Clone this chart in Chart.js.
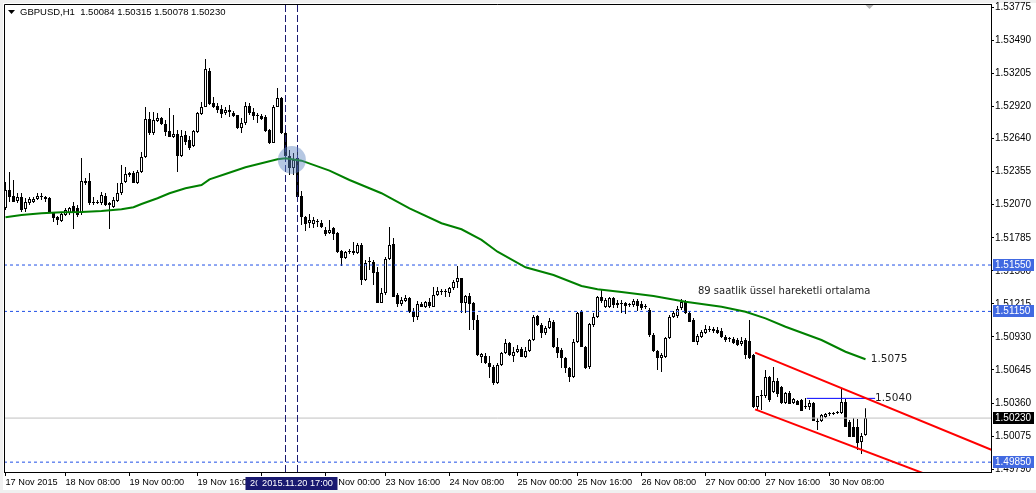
<!DOCTYPE html>
<html>
<head>
<meta charset="utf-8">
<script src="https://cdn.jsdelivr.net/npm/chart.js@4.4.1/dist/chart.umd.min.js"></script>
<style>
  body { margin: 0; background: #fff; }
  #wrap { width: 1036px; height: 493px; }
</style>
</head>
<body>
<div id="wrap"><canvas id="chart" width="1036" height="493"></canvas></div>
<script>
// GBPUSD H1, one value per hourly bar
const opens = [
  1.52042,1.52197,1.52145,1.52102,1.52137,1.52033,1.52085,1.52094,1.52119,1.52145,
  1.52137,1.52128,1.51999,1.51964,1.51930,1.51982,1.51999,1.52059,1.52042,1.51999,
  1.52275,1.52275,1.52085,1.52094,1.52085,1.52145,1.52085,1.52051,1.52102,1.52171,
  1.52266,1.52327,1.52344,1.52257,1.52353,1.52482,1.52809,1.52689,1.52792,1.52818,
  1.52766,1.52706,1.52654,1.52680,1.52490,1.52671,1.52628,1.52576,1.52697,1.52852,
  1.52913,1.53224,1.52947,1.52921,1.52895,1.52861,1.52887,1.52861,1.52844,1.52732,
  1.52775,1.52921,1.52870,1.52844,1.52835,1.52827,1.52715,1.52602,1.52913,1.52990,
  1.52689,1.52490,1.52387,1.52473,1.52145,1.51964,1.51912,1.51904,1.51930,1.51912,
  1.51852,1.51826,1.51869,1.51826,1.51671,1.51611,1.51671,1.51671,1.51654,1.51723,
  1.51421,1.51576,1.51576,1.51490,1.51222,1.51309,1.51602,1.51731,1.51291,1.51214,
  1.51239,1.51265,1.51145,1.51102,1.51214,1.51188,1.51231,1.51188,1.51291,1.51317,
  1.51317,1.51309,1.51352,1.51403,1.51438,1.51222,1.51283,1.51222,1.51076,1.50757,
  1.50766,1.50705,1.50670,1.50532,1.50687,1.50791,1.50877,1.50766,1.50800,1.50826,
  1.50757,1.50809,1.50903,1.51110,1.51033,1.50964,1.51007,1.51059,1.50843,1.50817,
  1.50748,1.50662,1.50584,1.50886,1.51145,1.50843,1.50670,1.51033,1.51102,1.51274,
  1.51188,1.51188,1.51265,1.51222,1.51222,1.51222,1.51214,1.51205,1.51239,1.51214,
  1.51188,1.51162,1.50947,1.50809,1.50748,1.50757,1.50921,1.51102,1.51110,1.51179,
  1.51231,1.51136,1.51076,1.50886,1.50929,1.50964,1.50990,1.50981,1.50990,1.50981,
  1.50929,1.50912,1.50912,1.50903,1.50869,1.50903,1.50895,1.50774,1.50325,1.50420,
  1.50420,1.50584,1.50455,1.50550,1.50498,1.50360,1.50446,1.50360,1.50377,1.50386,
  1.50325,1.50325,1.50360,1.50204,1.50204,1.50239,1.50265,1.50265,1.50273,1.50273,
  1.50369,1.50196,1.50153,1.50153,1.50024,1.50084
];
const highs = [
  1.52266,1.52353,1.52283,1.52171,1.52171,1.52128,1.52137,1.52137,1.52171,1.52171,
  1.52145,1.52137,1.52008,1.51973,1.52008,1.52042,1.52051,1.52094,1.52068,1.52473,
  1.52301,1.52344,1.52137,1.52111,1.52180,1.52171,1.52094,1.52137,1.52257,1.52413,
  1.52396,1.52353,1.52361,1.52370,1.52525,1.52913,1.52870,1.52870,1.52861,1.52827,
  1.52801,1.52904,1.52844,1.52715,1.52715,1.52706,1.52663,1.52715,1.52870,1.52956,
  1.53327,1.53250,1.52999,1.52947,1.52930,1.52913,1.52930,1.52878,1.52844,1.52818,
  1.52956,1.52947,1.52904,1.52861,1.52852,1.52844,1.52723,1.52930,1.53077,1.52999,
  1.52697,1.52542,1.52516,1.52551,1.52188,1.51973,1.51990,1.51964,1.51947,1.51938,
  1.51878,1.51938,1.51878,1.51835,1.51680,1.51671,1.51689,1.51749,1.51740,1.51740,
  1.51593,1.51619,1.51593,1.51533,1.51352,1.51619,1.51878,1.51783,1.51309,1.51274,
  1.51291,1.51274,1.51179,1.51239,1.51231,1.51239,1.51265,1.51360,1.51360,1.51343,
  1.51343,1.51360,1.51421,1.51541,1.51438,1.51291,1.51309,1.51231,1.51119,1.50791,
  1.50791,1.50766,1.50687,1.50705,1.50800,1.50912,1.50886,1.50843,1.50860,1.50843,
  1.50843,1.50912,1.51119,1.51119,1.51050,1.51024,1.51093,1.51076,1.50921,1.50835,
  1.50757,1.50670,1.50912,1.51145,1.51162,1.50852,1.51050,1.51136,1.51283,1.51335,
  1.51265,1.51274,1.51274,1.51248,1.51248,1.51231,1.51222,1.51257,1.51257,1.51239,
  1.51214,1.51179,1.50964,1.50817,1.50791,1.50929,1.51119,1.51153,1.51196,1.51257,
  1.51248,1.51153,1.51093,1.50955,1.50990,1.51033,1.51024,1.51016,1.51016,1.51007,
  1.50947,1.50929,1.50929,1.50921,1.50929,1.50921,1.51076,1.50783,1.50420,1.50472,
  1.50644,1.50593,1.50670,1.50575,1.50506,1.50455,1.50463,1.50403,1.50386,1.50394,
  1.50403,1.50386,1.50369,1.50230,1.50265,1.50273,1.50282,1.50282,1.50291,1.50481,
  1.50394,1.50213,1.50230,1.50221,1.50101,1.50315
];
const lows = [
  1.52025,1.52094,1.52094,1.52085,1.52008,1.52008,1.52068,1.52085,1.52111,1.52111,
  1.52094,1.51999,1.51921,1.51895,1.51921,1.51973,1.51982,1.51861,1.51964,1.51982,
  1.52240,1.52068,1.52068,1.52076,1.52068,1.52059,1.51861,1.52042,1.52094,1.52154,
  1.52257,1.52309,1.52257,1.52248,1.52344,1.52473,1.52671,1.52671,1.52784,1.52758,
  1.52663,1.52654,1.52645,1.52353,1.52482,1.52585,1.52542,1.52568,1.52689,1.52844,
  1.52913,1.52930,1.52904,1.52861,1.52818,1.52844,1.52827,1.52827,1.52723,1.52689,
  1.52758,1.52844,1.52801,1.52775,1.52801,1.52697,1.52594,1.52602,1.52913,1.52680,
  1.52439,1.52327,1.52327,1.52128,1.51895,1.51843,1.51869,1.51869,1.51878,1.51869,
  1.51800,1.51817,1.51766,1.51654,1.51541,1.51602,1.51645,1.51637,1.51645,1.51378,
  1.51412,1.51507,1.51378,1.51222,1.51222,1.51291,1.51593,1.51274,1.51188,1.51196,
  1.51231,1.51136,1.51059,1.51076,1.51188,1.51179,1.51179,1.51188,1.51283,1.51291,
  1.51274,1.51274,1.51335,1.51352,1.51136,1.51136,1.50990,1.50990,1.50766,1.50705,
  1.50696,1.50575,1.50515,1.50524,1.50679,1.50783,1.50766,1.50714,1.50791,1.50757,
  1.50748,1.50800,1.50895,1.51024,1.50921,1.50947,1.50999,1.50835,1.50748,1.50662,
  1.50618,1.50541,1.50575,1.50878,1.50843,1.50653,1.50653,1.51016,1.51093,1.51222,
  1.51179,1.51179,1.51179,1.51179,1.51136,1.51127,1.51188,1.51188,1.51153,1.51162,
  1.51171,1.50929,1.50800,1.50644,1.50627,1.50748,1.50912,1.51093,1.51093,1.51162,
  1.51127,1.51059,1.50886,1.50860,1.50921,1.50955,1.50973,1.50964,1.50955,1.50921,
  1.50886,1.50886,1.50869,1.50852,1.50852,1.50740,1.50740,1.50317,1.50299,1.50299,
  1.50403,1.50369,1.50446,1.50412,1.50351,1.50351,1.50351,1.50351,1.50343,1.50291,
  1.50308,1.50299,1.50204,1.50127,1.50196,1.50230,1.50248,1.50256,1.50265,1.50265,
  1.50153,1.50067,1.50067,1.49954,1.49920,1.50078
];
const closes = [
  1.52197,1.52137,1.52094,1.52137,1.52025,1.52094,1.52119,1.52119,1.52145,1.52137,
  1.52119,1.51999,1.51956,1.51938,1.51990,1.52025,1.52042,1.51999,1.51982,1.52275,
  1.52257,1.52085,1.52094,1.52085,1.52154,1.52068,1.52068,1.52111,1.52171,1.52257,
  1.52335,1.52344,1.52257,1.52353,1.52482,1.52809,1.52689,1.52801,1.52818,1.52766,
  1.52697,1.52654,1.52680,1.52490,1.52663,1.52611,1.52559,1.52706,1.52861,1.52913,
  1.53241,1.52939,1.52913,1.52887,1.52852,1.52887,1.52870,1.52835,1.52732,1.52775,
  1.52921,1.52861,1.52835,1.52835,1.52809,1.52706,1.52602,1.52913,1.52990,1.52689,
  1.52490,1.52387,1.52456,1.52137,1.51964,1.51904,1.51938,1.51938,1.51921,1.51878,
  1.51817,1.51852,1.51817,1.51663,1.51611,1.51663,1.51663,1.51654,1.51723,1.51421,
  1.51567,1.51576,1.51481,1.51222,1.51309,1.51602,1.51723,1.51274,1.51214,1.51248,
  1.51265,1.51145,1.51102,1.51214,1.51188,1.51231,1.51196,1.51291,1.51326,1.51317,
  1.51317,1.51352,1.51403,1.51438,1.51222,1.51283,1.51214,1.51076,1.50774,1.50783,
  1.50705,1.50670,1.50532,1.50687,1.50791,1.50877,1.50774,1.50800,1.50826,1.50757,
  1.50809,1.50903,1.51102,1.51033,1.50964,1.51007,1.51067,1.50843,1.50791,1.50748,
  1.50662,1.50584,1.50886,1.51136,1.50843,1.50662,1.51042,1.51102,1.51274,1.51239,
  1.51248,1.51265,1.51205,1.51205,1.51214,1.51196,1.51205,1.51239,1.51196,1.51179,
  1.51196,1.50947,1.50809,1.50748,1.50774,1.50921,1.51102,1.51136,1.51171,1.51231,
  1.51136,1.51059,1.50886,1.50938,1.50973,1.50999,1.50990,1.50999,1.50964,1.50929,
  1.50903,1.50912,1.50878,1.50860,1.50895,1.50774,1.50748,1.50325,1.50420,1.50429,
  1.50584,1.50386,1.50550,1.50437,1.50360,1.50446,1.50351,1.50394,1.50343,1.50291,
  1.50325,1.50360,1.50204,1.50196,1.50256,1.50265,1.50265,1.50273,1.50273,1.50369,
  1.50153,1.50067,1.50067,1.50015,1.50076,1.50230
];

// 89 period EMA
const emaBars = [0, 4, 9, 14, 19, 24, 29, 32, 34, 38, 41, 45, 49, 51, 55, 60, 64, 68, 70, 74,
  81, 86, 94, 101, 109, 114, 119, 123, 130, 137, 144, 148, 154, 162, 170, 179, 185, 190, 195, 204, 210, 215];
const emaValues = [1.51962, 1.51981, 1.51996, 1.52005, 1.52007, 1.52016, 1.52031, 1.52048, 1.52076, 1.52126,
  1.52169, 1.52212, 1.52240, 1.52289, 1.52335, 1.52393, 1.52427, 1.52462, 1.52471, 1.52450,
  1.52364, 1.52283, 1.52169, 1.52039, 1.51910, 1.51858, 1.51766, 1.51665, 1.51530, 1.51464,
  1.51369, 1.51341, 1.51317, 1.51283, 1.51234, 1.51190, 1.51147, 1.51090, 1.51018, 1.50903, 1.50802, 1.50737];

const priceTicks = [1.53775, 1.53490, 1.53205, 1.52920, 1.52640, 1.52355, 1.52070, 1.51785,
  1.51500, 1.51215, 1.50930, 1.50645, 1.50360, 1.50075, 1.49790];
const timeTickBars = [0, 15, 31, 48, 64, 80, 95, 111, 128, 143, 159, 175, 190, 206];
const timeTickLabels = ['17 Nov 2015', '18 Nov 08:00', '19 Nov 00:00', '19 Nov 16:00', '20 Nov 08:00',
  '23 Nov 00:00', '23 Nov 16:00', '24 Nov 08:00', '25 Nov 00:00', '25 Nov 16:00', '26 Nov 08:00',
  '27 Nov 00:00', '27 Nov 16:00', '30 Nov 08:00'];

const levelPrices = [1.51550, 1.51150, 1.49850];
const bidPrice = 1.50230;
const crossBars = [70, 73];
const crossLabels = ['2015.11.20 14:00', '2015.11.20 17:00'];
const channelBars = [187.4, 246.9];
const channelTop = [1.50794, 1.49950];
const channelBottom = [1.50305, 1.49526];
const resistBars = [200.3, 217.4];
const resistPrice = 1.50400;

const X_MIN = -0.375, X_MAX = 246.375;
const Y_MIN = 1.49765, Y_MAX = 1.53801;
const FONT = 'Liberation Sans';

function hLine(price) {
  return [{x: X_MIN, y: price}, {x: X_MAX, y: price}];
}
function vLine(bar) {
  return [{x: bar, y: Y_MIN}, {x: bar, y: Y_MAX}];
}

const datasets = [];
datasets.push({
  type: 'bar', order: 10, grouped: false, barThickness: 1, inflateAmount: 0,
  backgroundColor: '#000',
  data: highs.map((h, i) => ({x: i, y: [lows[i], h]}))
});
datasets.push({
  type: 'bar', order: 9, grouped: false, barThickness: 3, inflateAmount: 0, minBarLength: 1,
  borderWidth: 1, borderSkipped: false, borderColor: '#000',
  backgroundColor: closes.map((c, i) => c >= opens[i] ? '#fff' : '#000'),
  data: opens.map((o, i) => ({x: i, y: [o, closes[i]]}))
});
levelPrices.forEach(p => datasets.push({
  type: 'line', order: 8, data: hLine(p), borderColor: '#1f4fe6', borderWidth: 1,
  borderDash: [3, 3], pointRadius: 0
}));
datasets.push({
  type: 'line', order: 8, data: hLine(bidPrice), borderColor: '#c0c0c0', borderWidth: 1, pointRadius: 0
});
crossBars.forEach(b => datasets.push({
  type: 'line', order: 7, data: vLine(b), borderColor: '#1a1a72', borderWidth: 1,
  borderDash: [7, 3], pointRadius: 0
}));
datasets.push({
  type: 'line', order: 6, borderColor: '#008000', borderWidth: 2, pointRadius: 0, tension: 0,
  data: emaBars.map((b, i) => ({x: b, y: emaValues[i]}))
});
datasets.push({
  type: 'line', order: 5, borderColor: '#ff0000', borderWidth: 2, pointRadius: 0,
  data: channelBars.map((b, i) => ({x: b, y: channelTop[i]}))
});
datasets.push({
  type: 'line', order: 5, borderColor: '#ff0000', borderWidth: 2, pointRadius: 0,
  data: channelBars.map((b, i) => ({x: b, y: channelBottom[i]}))
});
datasets.push({
  type: 'line', order: 5, borderColor: '#0000ff', borderWidth: 1, pointRadius: 0,
  data: resistBars.map(b => ({x: b, y: resistPrice}))
});
datasets.push({
  type: 'line', order: 4, showLine: false, pointRadius: 14, pointBorderWidth: 0,
  pointBackgroundColor: 'rgba(90,130,190,0.45)', pointBorderColor: 'rgba(0,0,0,0)',
  data: [{x: 71.6, y: 1.52456}]
});

const extras = {
  id: 'extras',
  beforeDraw(chart) {
    const {ctx, width, height} = chart;
    ctx.save();
    ctx.fillStyle = '#f0f0f0';
    ctx.fillRect(0, 0, width, 3);
    ctx.fillRect(0, 0, 3, height);
    ctx.fillRect(0, height - 3, width, 3);
    ctx.restore();
  },
  afterDraw(chart) {
    const {ctx, chartArea: a, scales: {x, y}} = chart;
    ctx.save();
    // frame
    ctx.strokeStyle = '#000';
    ctx.lineWidth = 1;
    ctx.beginPath();
    ctx.moveTo(a.left + 0.5, a.bottom);
    ctx.lineTo(a.left + 0.5, a.top + 0.5);
    ctx.lineTo(a.right, a.top + 0.5);
    ctx.stroke();

    // text objects on the chart
    ctx.fillStyle = '#1e1e1e';
    ctx.textBaseline = 'middle';
    ctx.textAlign = 'left';
    ctx.font = '10px "DejaVu Sans"';
    ctx.fillText('89 saatlik üssel hareketli ortalama', x.getPixelForValue(173.1), y.getPixelForValue(1.51320));
    ctx.font = '10.5px "DejaVu Sans"';
    ctx.fillText('1.5075', x.getPixelForValue(216.3), y.getPixelForValue(1.50737));
    ctx.fillText('1.5040', x.getPixelForValue(217.4), y.getPixelForValue(resistPrice));

    // shift marker
    const sx = x.getPixelForValue(216);
    ctx.fillStyle = '#b4b4b4';
    ctx.beginPath();
    ctx.moveTo(sx - 4, a.top + 1);
    ctx.lineTo(sx + 4, a.top + 1);
    ctx.lineTo(sx, a.top + 5);
    ctx.fill();

    // header
    ctx.fillStyle = '#000';
    ctx.beginPath();
    ctx.moveTo(8, 10); ctx.lineTo(15, 10); ctx.lineTo(11.5, 14);
    ctx.fill();
    ctx.font = '9.5px "' + FONT + '"';
    ctx.fillText('GBPUSD,H1  ' + [opens[215], highs[215], lows[215], closes[215]].map(v => v.toFixed(5)).join(' '), 20, 12.5);

    // price labels on the axis
    ctx.font = '10px "' + FONT + '"';
    const tag = (price, bg) => {
      const py = Math.round(y.getPixelForValue(price));
      ctx.fillStyle = bg;
      ctx.fillRect(a.right + 2, py - 6, 41, 12);
      ctx.fillStyle = '#fff';
      ctx.fillText(price.toFixed(5), a.right + 4, py + 0.5);
    };
    levelPrices.forEach(p => tag(p, '#4169e1'));
    tag(bidPrice, '#000');

    // time labels of the vertical lines
    ctx.font = '9.2px "' + FONT + '"';
    crossBars.forEach((b, i) => {
      const px = x.getPixelForValue(b);
      ctx.fillStyle = '#191970';
      ctx.fillRect(px - 40, a.bottom + 5, 80, 13);
      ctx.fillStyle = '#fff';
      ctx.textAlign = 'center';
      ctx.fillText(crossLabels[i], px, a.bottom + 11.5);
    });
    ctx.restore();
  }
};

new Chart(document.getElementById('chart'), {
  type: 'bar',
  data: {datasets},
  options: {
    responsive: false,
    animation: false,
    events: [],
    layout: {autoPadding: false, padding: {left: 4, top: 4, right: 0, bottom: 0}},
    plugins: {legend: {display: false}, tooltip: {enabled: false}},
    scales: {
      x: {
        type: 'linear', min: X_MIN, max: X_MAX, offset: false,
        grid: {drawOnChartArea: false, offset: false, tickLength: 4, color: '#000'},
        border: {display: true, color: '#000'},
        afterBuildTicks: s => { s.ticks = timeTickBars.map(v => ({value: v})); },
        afterFit: s => { s.height = 21; s.paddingLeft = 0; s.paddingRight = 0; },
        ticks: {
          autoSkip: false, maxRotation: 0, minRotation: 0, align: 'start', padding: 1,
          color: '#000', font: {family: FONT, size: 9.2},
          callback: v => timeTickLabels[timeTickBars.indexOf(v)] || ''
        }
      },
      y: {
        position: 'right', min: Y_MIN, max: Y_MAX,
        grid: {drawOnChartArea: false, tickLength: 3, color: '#000'},
        border: {display: true, color: '#000'},
        afterBuildTicks: s => { s.ticks = priceTicks.map(v => ({value: v})); },
        afterFit: s => { s.width = 45; s.paddingTop = 0; s.paddingBottom = 0; },
        ticks: {
          padding: 1, color: '#000', font: {family: FONT, size: 10},
          callback: v => v.toFixed(5)
        }
      }
    }
  },
  plugins: [extras]
});
</script>
</body>
</html>
